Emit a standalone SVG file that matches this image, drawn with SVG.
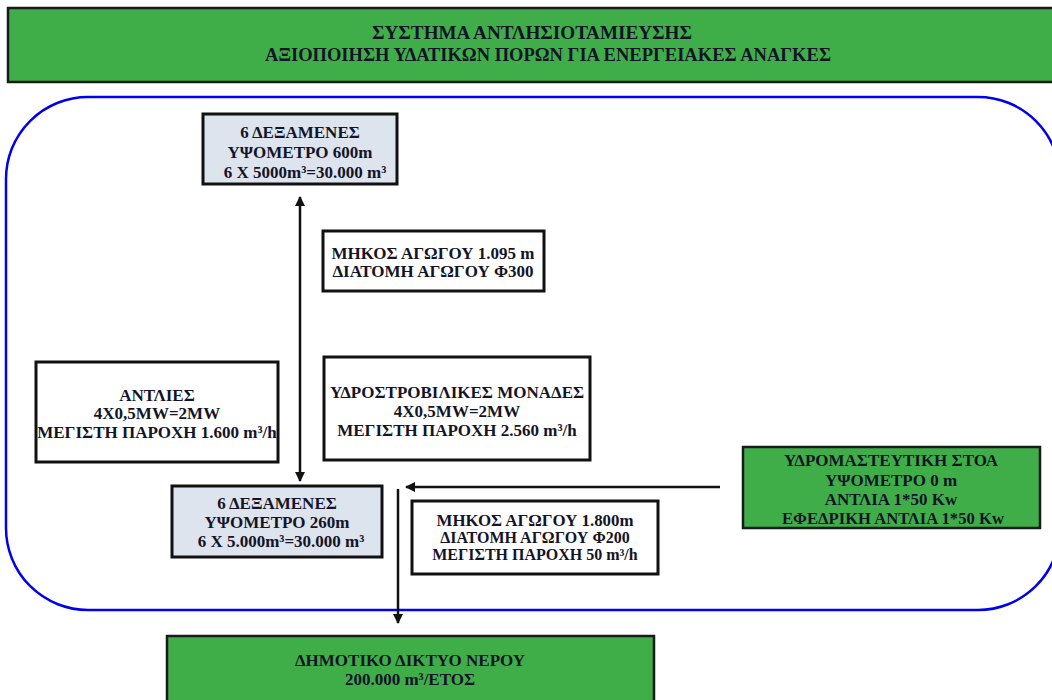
<svg xmlns="http://www.w3.org/2000/svg" width="1052" height="700" viewBox="0 0 1052 700">
<defs>
<style>
.t{font-family:"Liberation Serif","Times New Roman",serif;font-weight:bold;font-size:17px;fill:#141428;text-anchor:middle}
.h{font-size:18px}
.s{font-size:16px}
.g{fill:#40ae48;stroke:#1a1a1a;stroke-width:2.5}
.b{fill:#dde4ee;stroke:#111;stroke-width:3}
.w{fill:#fff;stroke:#111;stroke-width:3}
.c{stroke:#111;stroke-width:2.5;fill:none}
</style>
<marker id="ah" viewBox="0 0 10 10" refX="9" refY="5" markerWidth="4" markerHeight="4" orient="auto-start-reverse">
<path d="M0,0 L10,5 L0,10 z" fill="#111"/>
</marker>
</defs>
<rect width="1052" height="700" fill="#fff"/>
<rect x="6" y="97" width="1054" height="513" rx="82" ry="82" fill="none" stroke="#0000ee" stroke-width="2.5"/>
<g id="title">
<rect class="g" x="8" y="8" width="1050" height="74"/>
<text class="t h" x="532" y="39" textLength="320" lengthAdjust="spacingAndGlyphs">ΣΥΣΤΗΜΑ ΑΝΤΛΗΣΙΟΤΑΜΙΕΥΣΗΣ</text>
<text class="t h" x="548" y="61" textLength="566" lengthAdjust="spacingAndGlyphs">ΑΞΙΟΠΟΙΗΣΗ ΥΔΑΤΙΚΩΝ ΠΟΡΩΝ ΓΙΑ  ΕΝΕΡΓΕΙΑΚΕΣ ΑΝΑΓΚΕΣ</text>
</g>
<g id="upper-tanks">
<rect class="b" x="203" y="114" width="194" height="70"/>
<text class="t" x="300" y="138">6 ΔΕΞΑΜΕΝΕΣ</text>
<text class="t" x="300" y="158">ΥΨΟΜΕΤΡΟ 600m</text>
<text class="t" x="305" y="178">6 X 5000m³=30.000 m³</text>
</g>
<g id="pipe1">
<rect class="w" x="323" y="231" width="221" height="60"/>
<text class="t" x="433" y="259">ΜΗΚΟΣ ΑΓΩΓΟΥ 1.095 m</text>
<text class="t" x="433" y="277">ΔΙΑΤΟΜΗ ΑΓΩΓΟΥ Φ300</text>
</g>
<g id="pumps">
<rect class="w" x="36" y="362" width="242" height="100"/>
<text class="t" x="157" y="401">ΑΝΤΛΙΕΣ</text>
<text class="t" x="157" y="419">4X0,5MW=2MW</text>
<text class="t" x="157" y="438">ΜΕΓΙΣΤΗ ΠΑΡΟΧΗ 1.600 m³/h</text>
</g>
<g id="turbines">
<rect class="w" x="324" y="357" width="266" height="103"/>
<text class="t" x="457" y="398">ΥΔΡΟΣΤΡΟΒΙΛΙΚΕΣ ΜΟΝΑΔΕΣ</text>
<text class="t" x="457" y="417">4X0,5MW=2MW</text>
<text class="t" x="457" y="436">ΜΕΓΙΣΤΗ ΠΑΡΟΧΗ 2.560 m³/h</text>
</g>
<g id="lower-tanks">
<rect class="b" x="172" y="486" width="210" height="71"/>
<text class="t" x="277" y="509">6 ΔΕΞΑΜΕΝΕΣ</text>
<text class="t" x="277" y="528">ΥΨΟΜΕΤΡΟ 260m</text>
<text class="t" x="281" y="547">6 X 5.000m³=30.000 m³</text>
</g>
<g id="pipe2">
<rect class="w" x="412" y="501" width="246" height="73"/>
<text class="t s" x="535" y="526" textLength="197" lengthAdjust="spacingAndGlyphs">ΜΗΚΟΣ ΑΓΩΓΟΥ 1.800m</text>
<text class="t s" x="535" y="543">ΔΙΑΤΟΜΗ ΑΓΩΓΟΥ  Φ200</text>
<text class="t s" x="535" y="560">ΜΕΓΙΣΤΗ ΠΑΡΟΧΗ 50 m³/h</text>
</g>
<g id="gallery">
<rect class="g" x="743" y="447" width="297" height="81"/>
<text class="t" x="891" y="466">ΥΔΡΟΜΑΣΤΕΥΤΙΚΗ ΣΤΟΑ</text>
<text class="t" x="891" y="486">ΥΨΟΜΕΤΡΟ 0 m</text>
<text class="t" x="891" y="505">ΑΝΤΛΙΑ 1*50 Kw</text>
<text class="t" x="893" y="524" textLength="222" lengthAdjust="spacingAndGlyphs">ΕΦΕΔΡΙΚΗ ΑΝΤΛΙΑ 1*50 Kw</text>
</g>
<g id="network">
<rect class="g" x="167" y="636" width="487" height="70"/>
<text class="t" x="410" y="666">ΔΗΜΟΤΙΚΟ ΔΙΚΤΥΟ ΝΕΡΟΥ</text>
<text class="t" x="410" y="685">200.000 m³/ΕΤΟΣ</text>
</g>
<g id="connectors">
<line class="c" x1="300" y1="197" x2="300" y2="481" marker-start="url(#ah)" marker-end="url(#ah)"/>
<line class="c" x1="720" y1="487" x2="406" y2="487" marker-end="url(#ah)"/>
<line class="c" x1="398" y1="489" x2="398" y2="623" marker-end="url(#ah)"/>
</g>
</svg>
